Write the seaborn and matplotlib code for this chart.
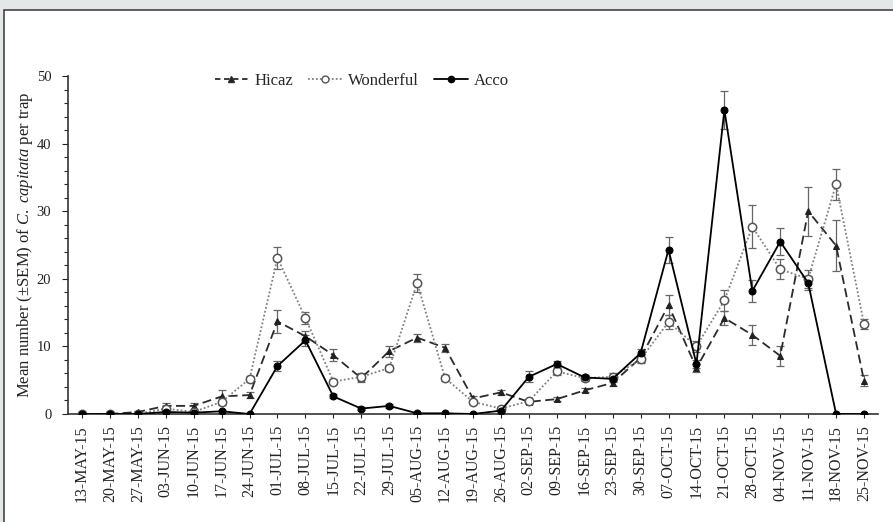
import matplotlib
matplotlib.use("Agg")
import matplotlib.pyplot as plt
import seaborn as sns
import pandas as pd
import numpy as np
from matplotlib.patches import Rectangle
from matplotlib.lines import Line2D

dates = ["13-MAY-15", "20-MAY-15", "27-MAY-15", "03-JUN-15", "10-JUN-15", "17-JUN-15",
         "24-JUN-15", "01-JUL-15", "08-JUL-15", "15-JUL-15", "22-JUL-15", "29-JUL-15",
         "05-AUG-15", "12-AUG-15", "19-AUG-15", "26-AUG-15", "02-SEP-15", "09-SEP-15",
         "16-SEP-15", "23-SEP-15", "30-SEP-15", "07-OCT-15", "14-OCT-15", "21-OCT-15",
         "28-OCT-15", "04-NOV-15", "11-NOV-15", "18-NOV-15", "25-NOV-15"]

hicaz = [0, 0, 0.3, 1.2, 1.2, 2.6, 2.8, 13.7, 11.5, 8.7, 5.3, 9.3, 11.3, 9.8, 2.3, 3.2,
         1.8, 2.2, 3.5, 4.6, 8.3, 16.1, 6.8, 14.2, 11.7, 8.6, 30.0, 24.9, 4.9]
hicaz_sem = [0, 0, 0.2, 0.4, 0.4, 0.9, 0.4, 1.7, 0.8, 0.9, 0.6, 0.8, 0.6, 0.6, 0.4, 0.4,
             0.3, 0.3, 0.3, 0.5, 0.6, 1.5, 0.6, 1.0, 1.5, 1.5, 3.6, 3.8, 0.8]

wonderful = [0, 0, 0, 0.8, 0.3, 1.8, 5.2, 23.1, 14.2, 4.8, 5.5, 6.8, 19.4, 5.3, 1.8, 0.8,
             1.9, 6.3, 5.3, 5.5, 8.1, 13.6, 10.0, 16.8, 27.7, 21.4, 20.0, 34.0, 13.3]
wonderful_sem = [0, 0, 0, 0.4, 0.2, 0.5, 0.4, 1.6, 0.9, 0.4, 0.5, 0.5, 1.3, 0.4, 0.3, 0.3,
                 0.3, 0.5, 0.4, 0.6, 0.6, 1.0, 0.8, 1.5, 3.2, 1.5, 1.3, 2.3, 0.7]

acco = [0, 0, 0, 0.3, 0.2, 0.4, 0, 7.1, 10.9, 2.6, 0.8, 1.2, 0.1, 0.1, 0, 0.5,
        5.5, 7.4, 5.4, 5.2, 9.0, 24.3, 7.4, 45.0, 18.2, 25.5, 19.4, 0, 0]
acco_sem = [0, 0, 0, 0.2, 0.2, 0.2, 0, 0.8, 0.8, 0.3, 0.2, 0.3, 0.1, 0.1, 0, 0.3,
            0.8, 0.5, 0.4, 0.5, 0.6, 1.9, 0.6, 2.8, 1.6, 2.0, 1.0, 0, 0]

cultivars = ["Hicaz", "Wonderful", "Acco"]
means = {"Hicaz": hicaz, "Wonderful": wonderful, "Acco": acco}
sems = {"Hicaz": hicaz_sem, "Wonderful": wonderful_sem, "Acco": acco_sem}

rows = []
for c in cultivars:
    for i, d in enumerate(dates):
        rows.append({"idx": i, "date": d, "cultivar": c, "mean": means[c][i]})
df = pd.DataFrame(rows)

sns.set_theme(style="white")
plt.rcParams["font.family"] = ["Liberation Serif", "DejaVu Serif"]
plt.rcParams["mathtext.fontset"] = "custom"
plt.rcParams["mathtext.rm"] = "Liberation Serif"
plt.rcParams["mathtext.it"] = "Liberation Serif:italic"

fig = plt.figure(figsize=(8.93, 5.22), dpi=100)
fig.patch.set_facecolor("#e4e7e8")
# white inner panel with border
fig.patches.append(Rectangle((4 / 893, -0.05), 1.0, (1 - 10 / 522) + 0.05,
                             transform=fig.transFigure, facecolor="white",
                             edgecolor="#444444", linewidth=1.2, zorder=-10))

ax = fig.add_axes([68 / 893, 1 - 414 / 522, (878 - 68) / 893, (414 - 76) / 522])
ax.set_facecolor("none")

colors = {"Hicaz": "#2b2b2b", "Wonderful": "#808080", "Acco": "#000000"}
dashes = {"Hicaz": (5, 2.5), "Wonderful": (1, 1.2), "Acco": ""}
markers = {"Hicaz": "^", "Wonderful": "o", "Acco": "o"}

sns.lineplot(data=df, x="idx", y="mean", hue="cultivar", style="cultivar",
             hue_order=cultivars, style_order=cultivars, palette=colors,
             dashes=dashes, markers=markers, linewidth=1.3, ax=ax, legend=False,
             markersize=5, zorder=3)

lines = ax.get_lines()
for line, c in zip(lines, cultivars):
    if c == "Wonderful":
        line.set_markerfacecolor("white")
        line.set_markeredgecolor("#555555")
        line.set_markersize(6)
        line.set_markeredgewidth(1.1)
    elif c == "Hicaz":
        line.set_markerfacecolor("#222222")
        line.set_markeredgecolor("#222222")
        line.set_markersize(4)
    else:
        line.set_markerfacecolor("black")
        line.set_markeredgecolor("black")
        line.set_markersize(5)

x = np.arange(len(dates))
for c in cultivars:
    m = np.array(means[c])
    s = np.array(sems[c])
    mask = s > 0
    ax.errorbar(x[mask], m[mask], yerr=s[mask], fmt="none", ecolor="#666666",
                elinewidth=0.9, capsize=3, capthick=0.9, zorder=2)

ax.set_xlim(-0.5, 28.5)
ax.set_ylim(0, 50)
ax.set_xticks(x)
ax.set_xticklabels(dates, rotation=90, fontsize=11.5)
ax.set_yticks([0, 10, 20, 30, 40, 50])
ax.set_yticks(np.arange(0, 51, 2), minor=True)
ax.tick_params(axis="y", which="major", length=4, width=0.8, direction="out",
               left=True, labelsize=10.5, pad=8, colors="#222222")
ax.tick_params(axis="y", which="minor", length=3, width=0.8, direction="out",
               left=True)
ax.tick_params(axis="x", which="major", length=3, width=0.8, direction="out",
               bottom=True, pad=5, colors="#222222")
for sp in ["top", "right"]:
    ax.spines[sp].set_visible(False)
for sp in ["left", "bottom"]:
    ax.spines[sp].set_color("#333333")
    ax.spines[sp].set_linewidth(1.2)

ax.set_xlabel("")
ax.set_ylabel("Mean number (±SEM) of $\\it{C.\\ capitata}$ per trap", fontsize=12,
              color="#222222", labelpad=1.5)

handles = [
    Line2D([], [], color=colors["Hicaz"], dashes=(3, 2), marker="^", markersize=4,
           markerfacecolor="#222222", linewidth=1.3),
    Line2D([], [], color=colors["Wonderful"], dashes=(1, 1.2), marker="o", markersize=5,
           markerfacecolor="white", markeredgecolor="#555555", linewidth=1.3),
    Line2D([], [], color="black", marker="o", markersize=4.5, linewidth=1.3),
]
fig.legend(handles, cultivars, loc="center", bbox_to_anchor=(362 / 893, 1 - 81 / 522),
           ncol=3, frameon=False, fontsize=12, handlelength=2.0, handletextpad=0.4,
           columnspacing=0.9)

fig.savefig("out.png", dpi=100, facecolor=fig.get_facecolor())
